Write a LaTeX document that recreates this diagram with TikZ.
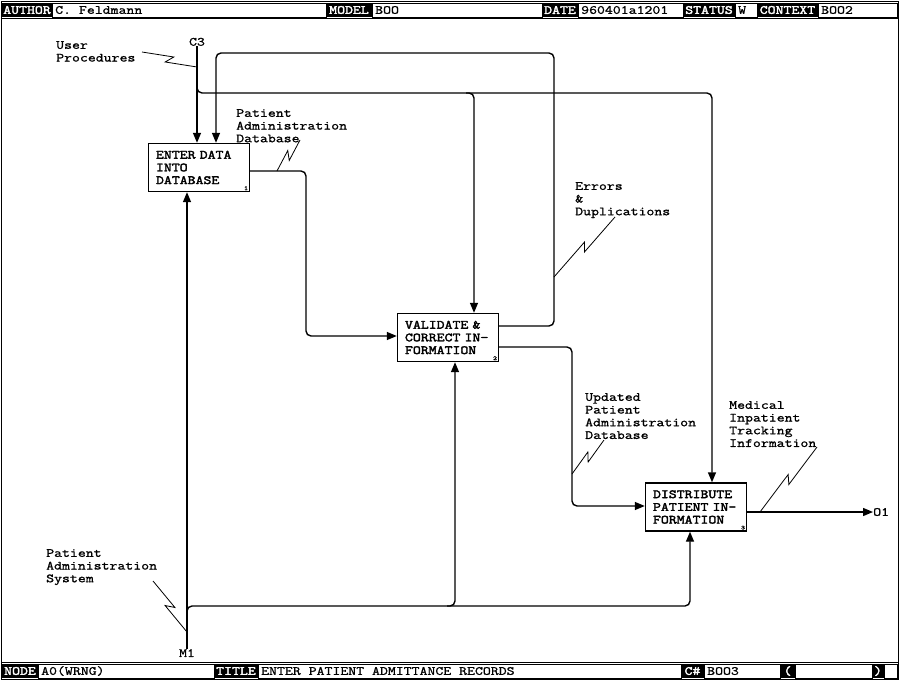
\documentclass[tikz,border=0pt]{standalone}
\usepackage{fontspec}
\newfontfamily\idfont[FakeStretch=1.23,FakeBold=1.2]{Latin Modern Mono}
\newfontfamily\idboldfont[FakeStretch=1.23,FakeBold=2.6]{Latin Modern Mono}
\usetikzlibrary{arrows.meta,positioning,calc}
\newcommand{\txtsize}{\fontsize{12.5}{12.7}\selectfont}
\newcommand{\tagcell}[5]{\node[tagbox,minimum width={#3-#2}] (#1) at ({(#2+#3)/2},#4) {#5};}
\newcommand{\valcell}[5]{\node[valbox,minimum width={#3-#2}] (#1) at ({(#2+#3)/2},#4) {};\node[valtext] (#1txt) at (#2+3,#4) {#5};}
\newcommand{\squig}[3]{\draw[squigline] (#1) -- ($(#1)!0.5!(#2)!5pt!#3:(#2)$) -- ($(#1)!0.5!(#2)!-5pt!#3:(#2)$) -- (#2);}
\tikzset{
  tagbox/.style={fill=black,text=white,font=\idboldfont\txtsize,minimum height=14,inner sep=0},
  valbox/.style={draw,fill=white,line width=0.8,minimum height=14,inner sep=0},
  valtext/.style={anchor=west,font=\idfont\txtsize,inner sep=0},
  actbox/.style={draw,line width=1.4,minimum width=101,minimum height=48,text width=86,align=left,inner xsep=7.5,inner ysep=0,font=\idboldfont\txtsize},
  actnum/.style={anchor=south east,inner sep=2,font=\idboldfont\fontsize{6}{6}\selectfont},
  lbl/.style={align=left,anchor=north west,inner sep=0,font=\idfont\txtsize},
  flow/.style={line width=1.4,rounded corners=5},
  arr/.style={flow,-{Triangle[length=10pt,width=8pt]}},
  squigline/.style={line width=0.8}
}
\begin{document}
\begin{tikzpicture}[x=1pt,y=-1pt]
\fill[white] (0,0) rectangle (900,680);
\useasboundingbox (0,0) rectangle (900,680);
\draw[line width=1] (1,1) rectangle (898,679);
\draw (1,18) -- (898,18) (1,662) -- (898,662);
\tagcell{authtag}{2}{52}{10}{AUTHOR}
\valcell{auth}{52}{326}{10}{C. Feldmann}
\tagcell{modeltag}{326}{372}{10}{MODEL}
\valcell{model}{372}{542}{10}{BOO}
\tagcell{datetag}{542}{578}{10}{DATE}
\valcell{date}{578}{683}{10}{960401a1201}
\tagcell{stattag}{683}{735}{10}{STATUS}
\valcell{stat}{735}{757}{10}{W}
\tagcell{ctxtag}{757}{818}{10}{CONTEXT}
\valcell{ctx}{818}{897}{10}{BOO2}
\tagcell{nodetag}{2}{38}{671}{NODE}
\valcell{nodeval}{38}{214}{671}{A0(WRNG)}
\tagcell{titletag}{214}{258}{671}{TITLE}
\valcell{title}{258}{681}{671}{ENTER PATIENT ADMITTANCE RECORDS}
\tagcell{cnumtag}{681}{704}{671}{C\#}
\valcell{cnum}{704}{780}{671}{BOO3}
\tagcell{lpar}{780}{795}{671}{(}
\valcell{parval}{795}{872}{671}{}
\tagcell{rpar}{872}{884}{671}{)}
\valcell{corner}{884}{897}{671}{}
\node[actbox] (enter) at (199,167.5) {ENTER DATA\\INTO\\DATABASE};
\node[actnum] (enternum) at (enter.south east) {1};
\node[actbox] (valid) at (448,337.5) {VALIDATE \&\\CORRECT IN-\\FORMATION};
\node[actnum] (validnum) at (valid.south east) {2};
\node[actbox] (distr) at (696,507) {DISTRIBUTE\\PATIENT IN-\\FORMATION};
\node[actnum] (distrnum) at (distr.south east) {3};
\node[lbl,anchor=south] (c3) at (197,46) {C3};
\node[lbl,anchor=north] (m1) at (187,649) {M1};
\node[lbl,anchor=west] (o1) at (873,512) {O1};
\node[lbl] (userproc) at (56,41) {User\\Procedures};
\node[lbl] (padb) at (236,109) {Patient\\Administration\\Database};
\node[lbl] (errdup) at (575,182) {Errors\\\&\\Duplications};
\node[lbl] (updpadb) at (585,393) {Updated\\Patient\\Administration\\Database};
\node[lbl] (medinfo) at (729,401) {Medical\\Inpatient\\Tracking\\Information};
\node[lbl] (pasys) at (46,549) {Patient\\Administration\\System};
\coordinate (c3turn) at (197,93);
\coordinate (c3valid) at (474,93);
\coordinate (c3distr) at (712,93);
\coordinate (errright) at (554,326);
\coordinate (errtop) at (216,53);
\coordinate (enterout) at (306,171);
\coordinate (validout) at (572,347);
\coordinate (m1turn) at (187,606);
\coordinate (m1valid) at (455,606);
\coordinate (m1distr) at (690,606);
\draw[arr] (c3) -- (c3 |- enter.north);
\draw[arr] ($(c3turn)+(0,-8)$) -- (c3turn) -- (c3distr) -- (c3distr |- distr.north);
\draw[arr] ($(c3valid)+(-8,0)$) -- (c3valid) -- (c3valid |- valid.north);
\draw[arr] (valid.east |- errright) -- (errright) -- (errright |- errtop) -- (errtop) -- (errtop |- enter.north);
\draw[arr] (enter.east |- enterout) -- (enterout) -- (enterout |- 0,336) -- (valid.west |- 0,336);
\draw[arr] (valid.east |- validout) -- (validout) -- (validout |- 0,506) -- (distr.west |- 0,506);
\draw[arr] (distr.east |- o1) -- (o1);
\draw[arr] (m1) -- (m1 |- enter.south);
\draw[arr] ($(m1turn)+(0,8)$) -- (m1turn) -- (m1distr) -- (m1distr |- distr.south);
\draw[arr] ($(m1valid)+(-8,0)$) -- (m1valid) -- (m1valid |- valid.south);
\coordinate (upA) at (142,52); \coordinate (upB) at (197,67);
\coordinate (pdA) at (300,140); \coordinate (pdB) at (277,171);
\coordinate (edA) at (615,217); \coordinate (edB) at (554,277);
\coordinate (udA) at (604,440); \coordinate (udB) at (572,474);
\coordinate (miA) at (817,447); \coordinate (miB) at (760,512);
\coordinate (psA) at (153,581); \coordinate (psB) at (187,632);
\squig{upA}{upB}{45}
\squig{pdA}{pdB}{45}
\squig{edA}{edB}{45}
\squig{udA}{udB}{45}
\squig{miA}{miB}{45}
\squig{psA}{psB}{45}
\end{tikzpicture}
\end{document}
